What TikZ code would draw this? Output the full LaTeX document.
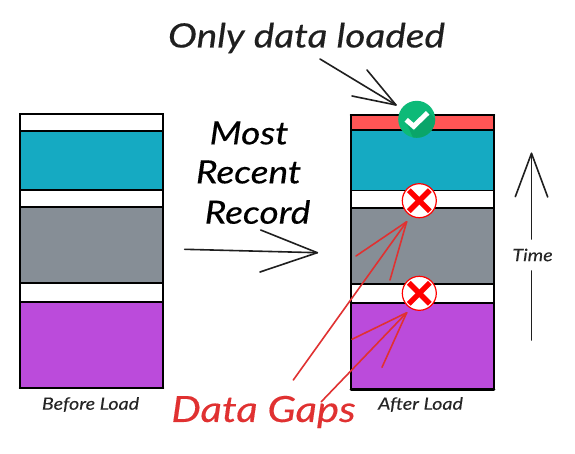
\documentclass[tikz,border=0pt]{standalone}
\usepackage{fontspec}
\setmainfont{Lato}
\newfontfamily\hand{Lato}[FakeStretch=1.16,FakeBold=0.35]
\newfontfamily\handsmall{Lato}[FakeStretch=1.16,FakeBold=0.1]
\begin{document}
\begin{tikzpicture}[x=1pt,y=-1pt,
  seg/.style={draw=black,line width=1.7pt,minimum width=143pt,inner sep=0pt,outer sep=0pt,anchor=north west},
  thick line/.style={line width=2.6pt,draw=black,line cap=round},
  ink/.style={draw=black!88,line width=1.6pt,line cap=round,line join=round},
  redink/.style={draw=arrowred,line width=1.6pt,line cap=round,line join=round},
  big/.style={font=\hand\itshape\fontsize{33.5}{36}\selectfont,text=black!88,inner sep=0pt},
  mid/.style={font=\hand\itshape\fontsize{32}{36}\selectfont,text=black,inner sep=0pt},
  gapstyle/.style={font=\hand\itshape\fontsize{36}{38}\selectfont,text=arrowred,inner sep=0pt},
  small/.style={font=\handsmall\itshape\fontsize{17}{18}\selectfont,text=black!85,inner sep=0pt},
  badge/.style={circle,draw=crossred,fill=white,line width=1.2pt,minimum size=34pt,inner sep=0pt},
  xmark/.style={draw=crossred,line width=5.4pt},
]
\definecolor{teal1}{HTML}{15AAC2}
\definecolor{gray1}{HTML}{868E96}
\definecolor{purple1}{HTML}{BB4BDB}
\definecolor{red1}{HTML}{FF5555}
\definecolor{green1}{HTML}{0DBA78}
\definecolor{green2}{HTML}{0AA56A}
\definecolor{arrowred}{HTML}{E03131}
\definecolor{crossred}{HTML}{FF0000}
\useasboundingbox (0,0) rectangle (575,453);
\fill[white] (0,0) rectangle (575,453);

% left stack
\node[seg,fill=white,minimum height=17pt] (l0) at (20,114) {};
\node[seg,fill=teal1,minimum height=59pt] (l1) at (20,131) {};
\node[seg,fill=white,minimum height=17pt] (l2) at (20,190) {};
\node[seg,fill=gray1,minimum height=76pt] (l3) at (20,207) {};
\node[seg,fill=white,minimum height=19pt] (l4) at (20,283) {};
\node[seg,fill=purple1,minimum height=86pt] (l5) at (20,302) {};
\draw[thick line] (l5.south west) -- (l5.south east);

% right stack
\node[seg,fill=red1,minimum height=15pt] (r0) at (351,115) {};
\node[seg,fill=teal1,minimum height=60pt] (r1) at (351,130.5) {};
\node[seg,fill=white,minimum height=17.5pt] (r2) at (351,190.5) {};
\node[seg,fill=gray1,minimum height=76pt] (r3) at (351,208) {};
\node[seg,fill=white,minimum height=19pt] (r4) at (351,284) {};
\node[seg,fill=purple1,minimum height=86.5pt] (r5) at (351,303) {};
\draw[thick line] (r5.south west) -- (r5.south east);
\draw[thick line] (r0.north west) -- (r0.north east);

% labels
\node[big] (only) at (306.5,38) {Only data loaded};
\node[mid] (most) at (249,133) {Most};
\node[mid] (recent) at (248.5,172) {Recent};
\node[mid] (record) at (257.5,212) {Record};
\node[small] (before) at (90.5,404.5) {Before Load};
\node[small] (after) at (420.5,404.5) {After Load};
\node[gapstyle] (gaps) at (263.5,412) {Data Gaps};
\node[small,minimum height=32pt] (time) at (532.5,255) {Time};

% arrow coordinates
\coordinate (otail) at (320,59);
\coordinate (otip) at (396,105);
\coordinate (ob1) at (367,70);
\coordinate (ob2) at (352,96);
\coordinate (mtail) at (184.7,249.3);
\coordinate (mtip) at (317.3,252.7);
\coordinate (mb1) at (260.7,230);
\coordinate (mb2) at (260,272);
\coordinate (ttail) at (531.5,340);
\coordinate (ttip) at (531.5,153.3);
\coordinate (tb1) at (515.3,196.7);
\coordinate (tb2) at (547.7,197);
\coordinate (tgapa) at (531.5,239);
\coordinate (tgapb) at (531.5,271);
\coordinate (g1tail) at (293.3,380);
\coordinate (g1tip) at (406.7,221.7);
\coordinate (g1b1) at (356,256);
\coordinate (g1b2) at (390,280);
\coordinate (g2tail) at (321.3,401.7);
\coordinate (g2tip) at (406.7,312.7);
\coordinate (g2b1) at (352,339.3);
\coordinate (g2b2) at (382,367.3);

% black arrows
\draw[ink] (otail) -- (otip);
\draw[ink] (ob1) -- (otip) -- (ob2);
\draw[ink] (mtail) -- (mtip);
\draw[ink] (mb1) -- (mtip) -- (mb2);
\draw[ink] (ttail) -- (tgapb);
\draw[ink] (tgapa) -- (ttip);
\draw[ink] (tb1) -- (ttip) -- (tb2);

% red arrows
\draw[redink] (g1tail) -- (g1tip);
\draw[redink] (g1b1) -- (g1tip) -- (g1b2);
\draw[redink] (g2tail) -- (g2tip);
\draw[redink] (g2b1) -- (g2tip) -- (g2b2);

% check badge
\node[circle,fill=green1,minimum size=37pt,inner sep=0pt] (check) at (416.7,119.3) {};
\begin{scope}
  \clip (check.center) circle (18.5);
  \fill[green2] (407,124) -- (414,131) -- (429,112) -- (445,129) -- (425,150) -- (414,140) -- cycle;
\end{scope}
\draw[white,line width=5pt] (check.center) +(-10.5,0.5) -- +(-3,7) -- +(11,-6.5);

% cross badges
\node[badge] (x1) at (419.3,200.7) {};
\draw[xmark] (x1.center) +(-10.5,-10.5) -- +(10.5,10.5);
\draw[xmark] (x1.center) +(-10.5,10.5) -- +(10.5,-10.5);
\node[badge] (x2) at (419.3,293.3) {};
\draw[xmark] (x2.center) +(-10.5,-10.5) -- +(10.5,10.5);
\draw[xmark] (x2.center) +(-10.5,10.5) -- +(10.5,-10.5);
\end{tikzpicture}
\end{document}
